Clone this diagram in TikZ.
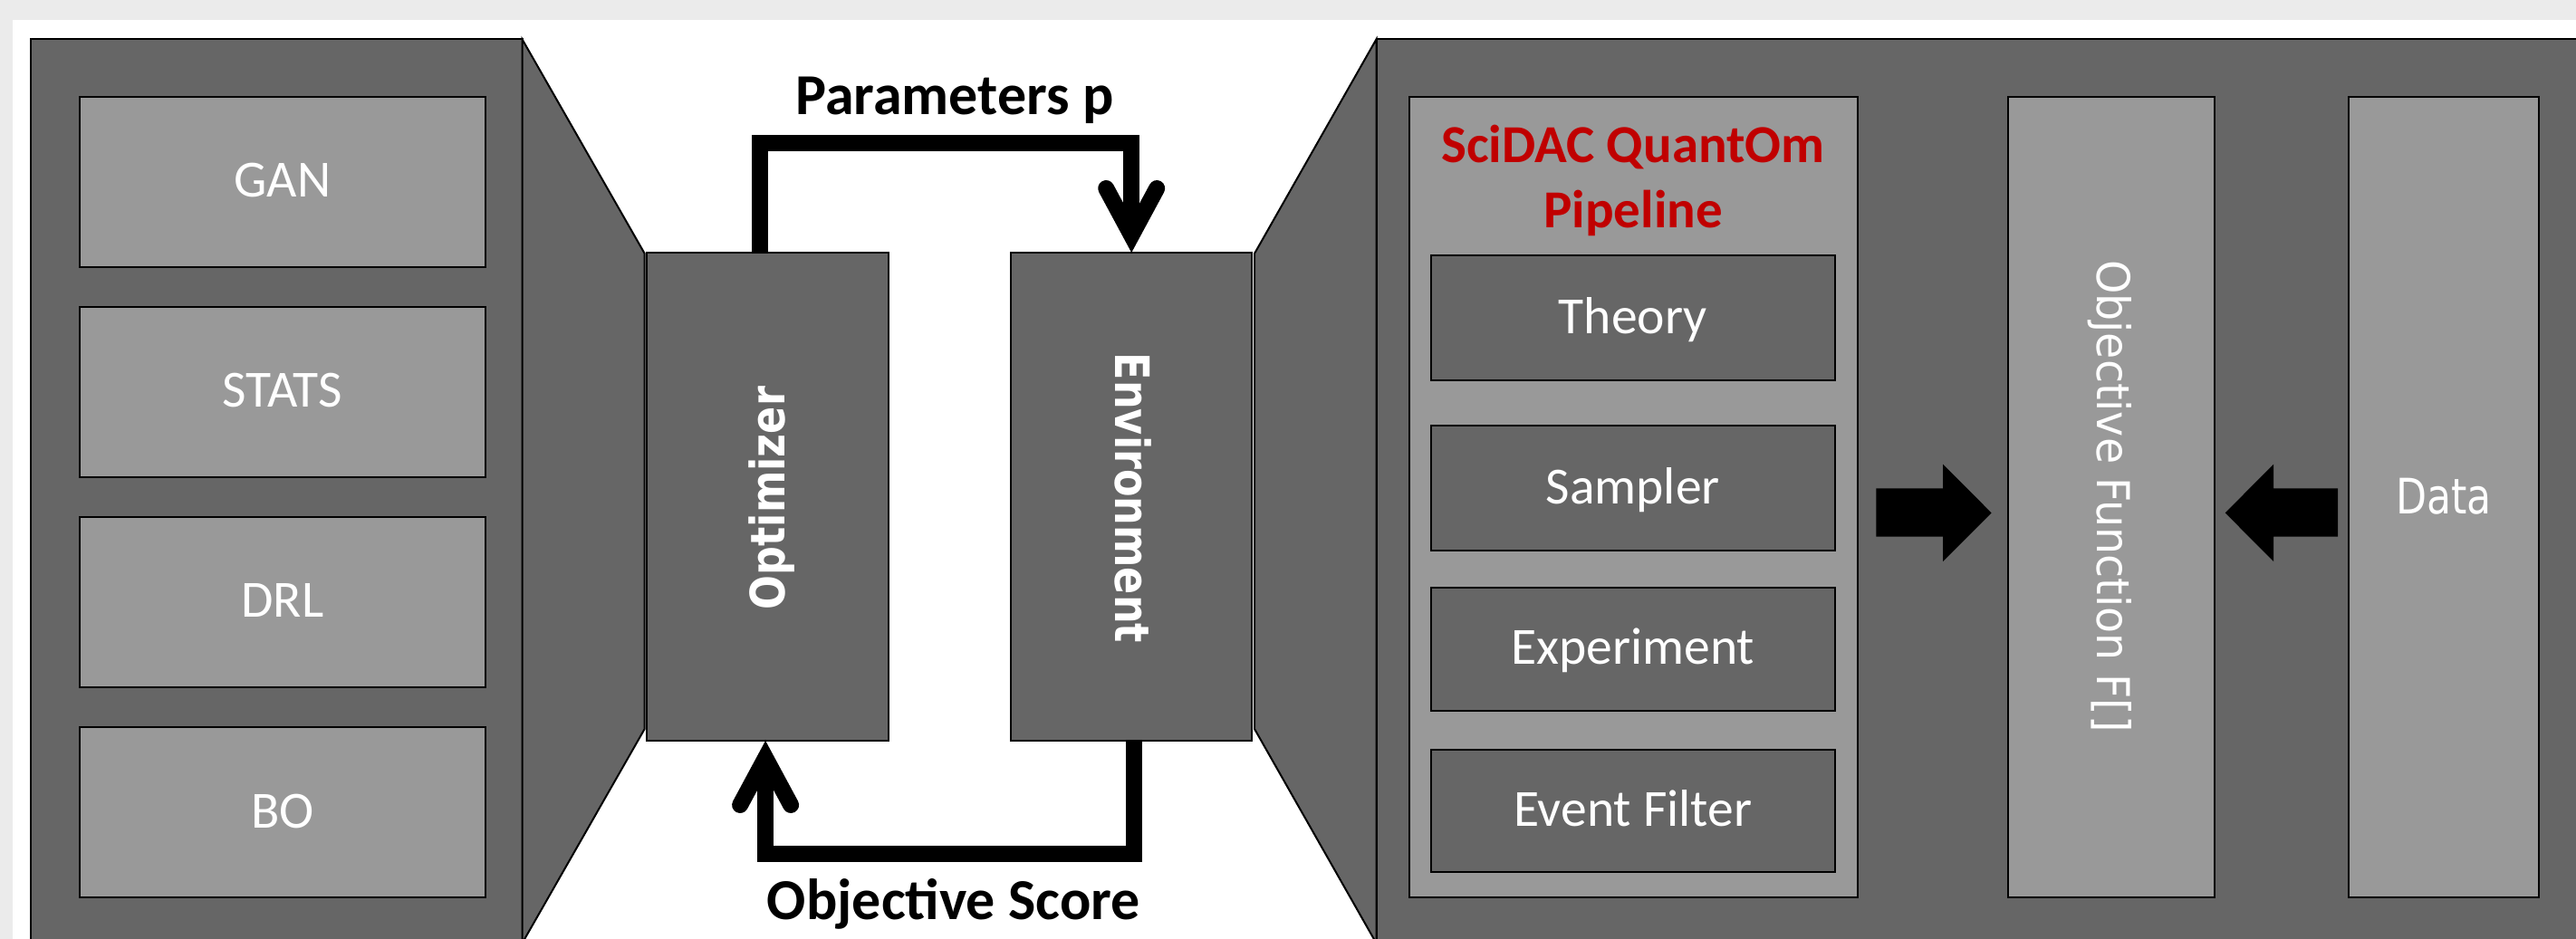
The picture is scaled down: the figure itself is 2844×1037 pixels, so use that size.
\documentclass[tikz,border=0pt]{standalone}
\usepackage{fontspec}
\setmainfont{Carlito}
\newfontfamily\rotfont{DejaVu Sans}[FakeStretch=0.85]
\newfontfamily\objfont{DejaVu Sans}[FakeStretch=0.95]
\newfontfamily\datafont{DejaVu Sans}[FakeStretch=0.82]
\usetikzlibrary{arrows.meta}
\definecolor{panelgray}{HTML}{666666}
\definecolor{boxgray}{HTML}{999999}
\definecolor{bandgray}{HTML}{EBEBEB}
\definecolor{titlered}{HTML}{C00000}

\begin{document}
\begin{tikzpicture}[x=0.25pt, y=-0.25pt,
  panel/.style={draw=black, line width=0.5pt, fill=panelgray, line join=miter},
  block/.style={draw=black, line width=0.5pt, inner sep=0pt, outer sep=0pt,
    anchor=north west, text=white},
  lightbox/.style={block, fill=boxgray},
  darkbox/.style={block, fill=panelgray},
  boxtext/.style={font=\fontsize{14.4}{17}\selectfont, text height=9.5pt, text depth=1pt},
  looplabel/.style={font=\bfseries\fontsize{16}{19}\selectfont, text=black, inner sep=0pt},
  redtitle/.style={font=\bfseries\fontsize{14.75}{18}\selectfont, text=titlered, inner sep=0pt},
  sidetext/.style={font=\rotfont\bfseries\fontsize{13.1}{16}\selectfont, text=white, inner sep=0pt},
  conn/.style={line width=4.5pt, line join=miter, line cap=butt,
    -{Straight Barb[length=13pt, width=14pt, line cap=round, line join=miter]}},
  blockarrow/.style={fill=black}
]
\useasboundingbox (0,0) rectangle (2844,1037);
\clip (0,0) rectangle (2844,1037);

% page background
\fill[bandgray] (0,0) rectangle (2844,1037);
\fill[white] (13.8,21.7) rectangle (2844,1037);

% left panel: optimizer families
\draw[panel] (33.7,43.3) rectangle (576.5,1060);
\draw[panel] (576.5,43.3) -- (711.7,280) -- (711.7,805) -- (576.5,1041.7) -- cycle;
\node[lightbox, boxtext, minimum width=112pt, minimum height=47pt] (gan)   at (87.8,106.7) {GAN};
\node[lightbox, boxtext, minimum width=112pt, minimum height=47pt] (stats) at (87.8,338.8) {STATS};
\node[lightbox, boxtext, minimum width=112pt, minimum height=47pt] (drl)   at (87.8,570.9) {DRL};
\node[lightbox, boxtext, minimum width=112pt, minimum height=47pt] (bo)    at (87.8,803) {BO};

% right panel: environment details
\draw[panel] (1519.5,43.3) rectangle (2880,1060);
\draw[panel] (1519.5,43.3) -- (1385,280) -- (1385,805) -- (1519.5,1041.7) -- cycle;
\node[lightbox, minimum width=123.75pt, minimum height=221pt] (pipe) at (1555.5,106.7) {};
\node[redtitle, anchor=base] (sci1) at (1803,180) {SciDAC QuantOm};
\node[redtitle, anchor=base] (sci2) at (1803,251.7) {Pipeline};
\node[darkbox, boxtext, minimum width=111.6pt, minimum height=34.6pt] (theory)  at (1579.5,282) {Theory};
\node[darkbox, boxtext, minimum width=111.6pt, minimum height=34.6pt] (sampler) at (1579.5,470) {Sampler};
\node[darkbox, boxtext, minimum width=111.6pt, minimum height=33.9pt] (exper)   at (1579.5,649) {Experiment};
\node[darkbox, boxtext, minimum width=111.6pt, minimum height=33.7pt] (filter)  at (1579.5,828) {Event Filter};
\node[lightbox, minimum width=57pt, minimum height=221pt] (obj) at (2217,106.7) {};
\node[font=\objfont\fontsize{12.5}{15}\selectfont, text=white, inner sep=0pt,
      rotate=-90, anchor=base] (objtxt) at (2315,548) {Objective Function F[]};
\node[lightbox, minimum width=52.6pt, minimum height=221pt] (data) at (2592.5,106.7) {};
\node[font=\datafont\fontsize{13.5}{16}\selectfont, text=white, inner sep=0pt,
      anchor=base] (datatxt) at (2698,567) {Data};

% block arrows feeding the objective function
\fill[blockarrow] (2071.4,539.3) -- (2145,539.3) -- (2145,512.7) -- (2198.6,566.4)
  -- (2145,620) -- (2145,592.7) -- (2071.4,592.7) -- cycle;
\fill[blockarrow] (2581,539.3) -- (2510,539.3) -- (2510,512.7) -- (2456.7,566.4)
  -- (2510,620) -- (2510,592.7) -- (2581,592.7) -- cycle;

% optimizer / environment loop
\node[darkbox, minimum width=66.75pt, minimum height=134.75pt] (opt) at (714,279) {};
\node[sidetext, rotate=90, anchor=base] (opttxt) at (866,550) {Optimizer};
\node[darkbox, minimum width=66.6pt, minimum height=134.75pt] (env) at (1116,279) {};
\node[sidetext, rotate=-90, anchor=base] (envtxt) at (1231,550) {Environment};

\coordinate (ptop) at (1043,158.5);
\coordinate (pbot) at (1048,942.5);
\draw[conn] ([xshift=-2.25pt]opt.north) |- (ptop) -| (env.north);
\draw[conn] ([xshift=0.7pt]env.south) |- (pbot) -| ([xshift=-0.6pt]opt.south);
\node[looplabel, anchor=base] (plabel) at (1054,126.7) {Parameters p};
\node[looplabel, anchor=base] (slabel) at (1053,1015) {Objective Score};
\end{tikzpicture}
\end{document}
